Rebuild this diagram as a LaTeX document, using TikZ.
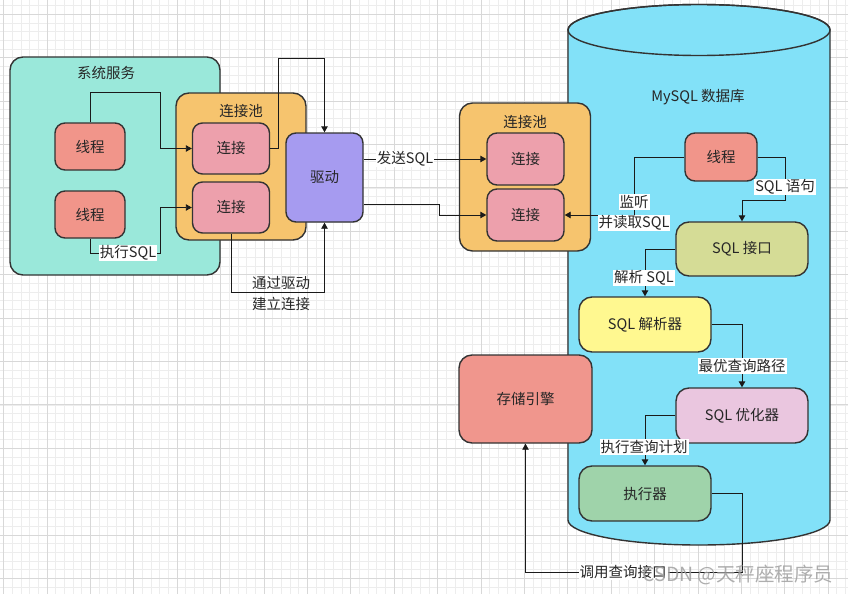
\documentclass[tikz,border=0pt]{standalone}
\usepackage{fontspec}
\setmainfont{Noto Sans CJK SC}
\usetikzlibrary{arrows.meta}
\definecolor{gminorc}{HTML}{EDEDED}
\definecolor{gmajorc}{HTML}{D8D8D8}
\definecolor{edgec}{HTML}{333333}
\definecolor{sysc}{HTML}{9AE8DA}
\definecolor{thrc}{HTML}{F1958A}
\definecolor{poolc}{HTML}{F6C46E}
\definecolor{connc}{HTML}{EDA0AC}
\definecolor{drvc}{HTML}{A69BF0}
\definecolor{cylc}{HTML}{82E1F8}
\definecolor{sqlic}{HTML}{D5DC96}
\definecolor{parsc}{HTML}{FFF890}
\definecolor{optc}{HTML}{EAC6DF}
\definecolor{exec}{HTML}{9FD3AA}
\definecolor{storc}{HTML}{F0968D}
\definecolor{linec}{HTML}{1A1A1A}
\definecolor{wmc}{HTML}{A0A0A0}
\begin{document}
\begin{tikzpicture}[x=1pt,y=-1pt,
  font=\fontsize{14.5pt}{17pt}\selectfont,
  gminor/.style={draw=gminorc,line width=0.8pt},
  gmajor/.style={draw=gmajorc,line width=0.9pt},
  box/.style={draw=edgec,line width=1.4pt,rounded corners=10pt,inner sep=0pt,text=black!85},
  bigbox/.style={box,rounded corners=13pt},
  arr/.style={draw=linec,line width=0.9pt,-{Triangle[length=6pt,width=6.5pt]}},
  ln/.style={draw=linec,line width=0.9pt},
  lab/.style={fill=white,inner sep=1pt,text=black!85},
  ttl/.style={inner sep=0pt,text=black!85}
]
\useasboundingbox (0,0) rectangle (848,594);
\fill[white] (0,0) rectangle (848,594);
% grid
\foreach \i in {0,...,97} \draw[gminor] ({3.6+\i*8.68},0) -- ({3.6+\i*8.68},594);
\foreach \i in {0,...,67} \draw[gminor] (0,{5.62+\i*8.68}) -- (848,{5.62+\i*8.68});
\foreach \i in {0,...,19} \draw[gmajor] ({3.6+\i*43.4},0) -- ({3.6+\i*43.4},594);
\foreach \i in {0,...,13} \draw[gmajor] (0,{14.3+\i*43.4}) -- (848,{14.3+\i*43.4});

% cylinder
\path[fill=cylc,draw=edgec,line width=1.4pt]
  (568,30) -- (568,520) arc[start angle=180,end angle=360,x radius=131pt,y radius=25pt]
  -- (830,30) arc[start angle=0,end angle=180,x radius=131pt,y radius=25.5pt] -- cycle;
\draw[edgec,line width=1.4pt] (699,30) ellipse[x radius=131pt,y radius=25.5pt];
\node[ttl] (dbl) at (698,97) {MySQL 数据库};

% left system
\node[bigbox,fill=sysc,minimum width=210pt,minimum height=218pt] (sys) at (115,166) {};
\node[ttl] (sysl) at (106,73) {系统服务};
\node[box,fill=thrc,minimum width=70pt,minimum height=47pt] (t1) at (90,146.5) {线程};
\node[box,fill=thrc,minimum width=70pt,minimum height=47pt] (t2) at (90,214.5) {线程};

% left pool
\node[bigbox,fill=poolc,minimum width=130pt,minimum height=147pt] (pool1) at (241,166.5) {};
\node[ttl] (pool1l) at (241,111) {连接池};
\node[box,fill=connc,minimum width=77pt,minimum height=51pt] (c1) at (231,148.5) {连接};
\node[box,fill=connc,minimum width=77pt,minimum height=51pt] (c2) at (231,207.5) {连接};

% driver
\node[box,fill=drvc,minimum width=77pt,minimum height=89pt] (drv) at (324.5,177.5) {驱动};

% right pool
\node[bigbox,fill=poolc,minimum width=131pt,minimum height=148pt] (pool2) at (525,177) {};
\node[ttl] (pool2l) at (525,122) {连接池};
\node[box,fill=connc,minimum width=77pt,minimum height=52pt] (c3) at (525.5,159) {连接};
\node[box,fill=connc,minimum width=77pt,minimum height=52pt] (c4) at (525.5,215) {连接};

% inside db
\node[box,fill=thrc,minimum width=72pt,minimum height=48pt] (t3) at (721,157) {线程};
\node[bigbox,fill=sqlic,minimum width=132pt,minimum height=54pt] (sqli) at (742,249) {SQL 接口};
\node[bigbox,fill=parsc,minimum width=132pt,minimum height=55pt] (pars) at (645,324.5) {SQL 解析器};
\node[bigbox,fill=optc,minimum width=132pt,minimum height=55pt] (opt) at (742,415.5) {SQL 优化器};
\node[bigbox,fill=exec,minimum width=132pt,minimum height=55pt] (exe) at (645,493.5) {执行器};
\node[bigbox,fill=storc,minimum width=133pt,minimum height=88pt] (stor) at (525.5,399) {存储引擎};

% connectors left
\draw[arr] (t1.north) |- (160,92) |- (c1.west);
\draw[arr] (t2.south) |- (160,253) |- (c2.west);
\node[lab] (l1) at (128,253) {执行SQL};
\draw[arr] (c1.east) -| (278,58) -| (drv.north);
\draw[arr] (c2.south) |- (324.5,292) -- (drv.south);
\node[ttl] (l2a) at (281,283) {通过驱动};
\node[ttl] (l2b) at (281,304) {建立连接};

% driver to right pool
\draw[arr] (drv.east |- c3.west) -- (c3.west);
\node[lab] (l3) at (405,159) {发送SQL};
\draw[arr] (drv.east |- 0,204) -| (439,215) -- (c4.west);

% db flow
\draw[arr] (t3.west) -| (634,215) -- (c4.east);
\node[lab] (l4a) at (634,202) {监听};
\node[lab] (l4b) at (634,223) {并读取SQL};
\draw[arr] (t3.east) -| (785,200) -| (sqli.north);
\node[lab] (l5) at (785,187) {SQL 语句};
\draw[arr] (sqli.west) -| (pars.north);
\node[lab] (l6) at (644,278) {解析 SQL};
\draw[arr] (pars.east) -| (opt.north);
\node[lab] (l7) at (742,366) {最优查询路径};
\draw[arr] (opt.west) -| (exe.north);
\node[lab] (l8) at (644,447) {执行查询计划};
\draw[arr] (exe.east) -| (742,572) -| (stor.south);
\node[lab] (l9) at (623,572) {调用查询接口};

% watermark
\node[inner sep=0pt,text=wmc,opacity=0.85,font=\fontsize{19.5pt}{21pt}\selectfont] (wm) at (738,575) {CSDN @天秤座程序员};
\end{tikzpicture}
\end{document}
